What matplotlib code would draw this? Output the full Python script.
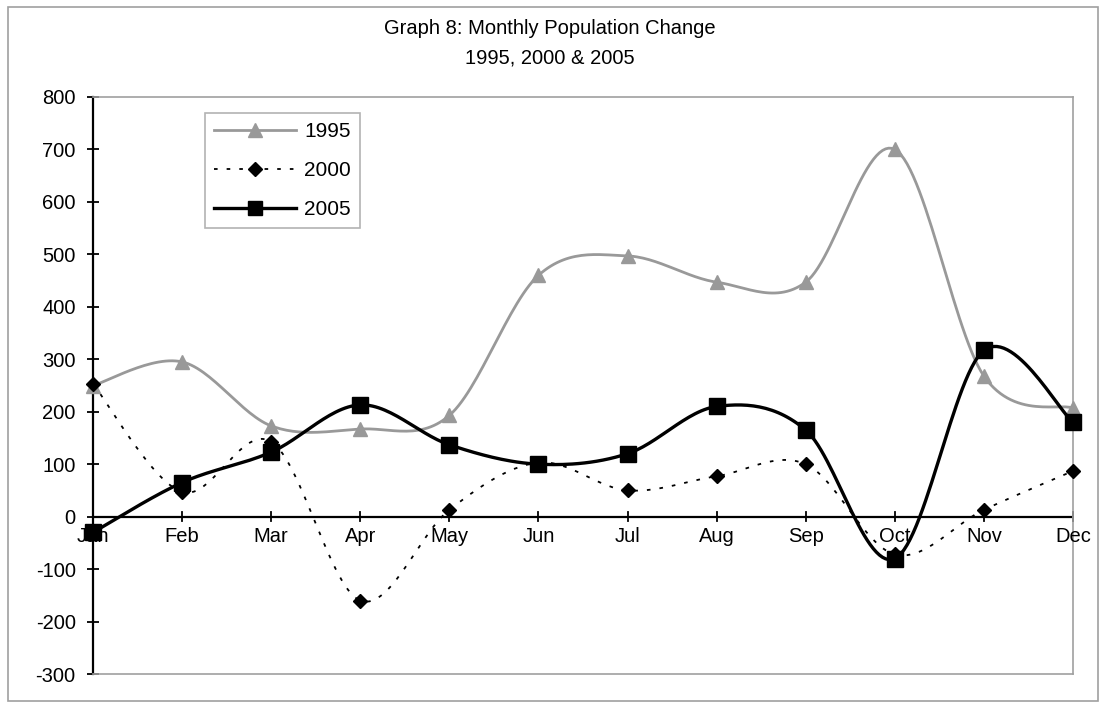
import numpy as np
import matplotlib.pyplot as plt
from matplotlib.patches import Rectangle
from matplotlib.lines import Line2D

plt.rcParams["font.family"] = ["Liberation Sans", "DejaVu Sans"]
plt.rcParams["axes.unicode_minus"] = False

months = ["Jan", "Feb", "Mar", "Apr", "May", "Jun",
          "Jul", "Aug", "Sep", "Oct", "Nov", "Dec"]
y1995 = [250, 295, 173, 167, 193, 460, 497, 447, 447, 700, 268, 207]
y2000 = [253, 47, 143, -160, 13, 103, 50, 77, 100, -72, 13, 87]
y2005 = [-30, 65, 123, 213, 137, 100, 120, 210, 165, -80, 317, 180]


def smooth(y, n=30):
    # Catmull-Rom style curve like Excel's "smoothed line"
    x = np.arange(len(y), dtype=float)
    y = np.asarray(y, dtype=float)
    px = np.concatenate([[x[0]], x, [x[-1]]])
    py = np.concatenate([[y[0]], y, [y[-1]]])
    xs, ys = [], []
    for i in range(1, len(px) - 2):
        t = np.linspace(0, 1, n)
        for arr, out in ((px, xs), (py, ys)):
            p0, p1, p2, p3 = arr[i - 1], arr[i], arr[i + 1], arr[i + 2]
            c1 = p1 + (p2 - p0) / 6
            c2 = p2 - (p3 - p1) / 6
            out.append((1 - t) ** 3 * p1 + 3 * (1 - t) ** 2 * t * c1
                       + 3 * (1 - t) * t ** 2 * c2 + t ** 3 * p2)
    return np.concatenate(xs), np.concatenate(ys)


fig = plt.figure(figsize=(11, 7.07), dpi=100)
fig.patches.append(Rectangle((8 / 1100, 6 / 707), 1090 / 1100, 694 / 707,
                             transform=fig.transFigure, fill=False,
                             edgecolor="#a0a0a0", linewidth=1.2))
ax = fig.add_axes([93 / 1100, 1 - 674 / 707, 980 / 1100, 577 / 707])

x = np.arange(len(months))
gray = "#999999"

sx, sy = smooth(y1995)
ax.plot(sx, sy, color=gray, linewidth=2, zorder=3)
ax.plot(x, y1995, linestyle="none", marker="^", markersize=10,
        color=gray, zorder=4, clip_on=False)

sx, sy = smooth(y2000)
ax.plot(sx, sy, color="black", linewidth=1.3, linestyle=(0, (2, 5)), zorder=3)
ax.plot(x, y2000, linestyle="none", marker="D", markersize=7.5,
        color="black", zorder=4, clip_on=False)

sx, sy = smooth(y2005)
ax.plot(sx, sy, color="black", linewidth=2.4, zorder=5)
ax.plot(x, y2005, linestyle="none", marker="s", markersize=12,
        color="black", zorder=6, clip_on=False)

ax.set_xlim(0, 11)
ax.set_ylim(-300, 800)
ax.set_yticks(range(-300, 801, 100))
ax.tick_params(axis="y", direction="inout", length=9, width=1.3,
               labelsize=14.5, pad=8)
ax.set_xticks([])

for side in ("top", "right", "bottom"):
    ax.spines[side].set_color("#a0a0a0")
    ax.spines[side].set_linewidth(1.2)
ax.spines["left"].set_linewidth(1.6)

# category axis drawn at zero
ax.axhline(0, color="black", linewidth=1.6, zorder=2)
for i, m in enumerate(months):
    ax.plot([i, i], [-9, 9], color="black", linewidth=1.3, zorder=2,
            clip_on=False)
    ax.text(i, -20, m, ha="center", va="top", fontsize=14.5, zorder=7)

handles = [
    Line2D([], [], color=gray, linewidth=2, marker="^", markersize=10),
    Line2D([], [], color="black", linewidth=1.3, linestyle=(0, (2, 5)),
           marker="D", markersize=7.5),
    Line2D([], [], color="black", linewidth=2.4, marker="s", markersize=10),
]
leg = ax.legend(handles, ["1995", "2000", "2005"], loc="upper left",
                bbox_to_anchor=(112 / 980, 1 - 16 / 577), fontsize=15,
                frameon=True, fancybox=False, handlelength=3.9,
                labelspacing=0.95, borderpad=0.45, handletextpad=0.4,
                borderaxespad=0)
leg.get_frame().set_edgecolor("#a0a0a0")
leg.get_frame().set_linewidth(1.2)

fig.text(0.5, 1 - 28 / 707, "Graph 8: Monthly Population Change",
         ha="center", va="center", fontsize=14.5)
fig.text(0.5, 1 - 58 / 707, "1995, 2000 & 2005",
         ha="center", va="center", fontsize=14.5)

fig.savefig("out.png", dpi=100)
